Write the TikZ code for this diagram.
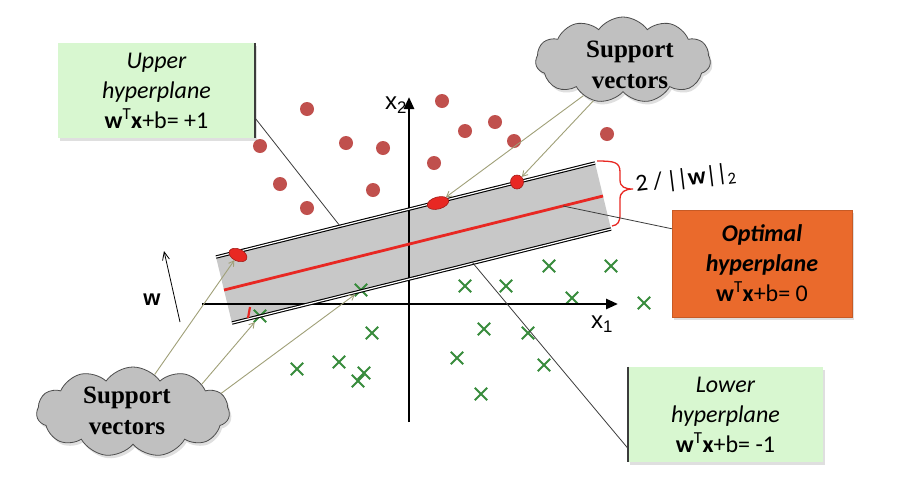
\documentclass[tikz,border=0pt]{standalone}
\usepackage{fontspec}
\setmainfont{Carlito}
\newfontfamily\tms{Liberation Serif}
\newfontfamily\hel{Liberation Sans}
\usetikzlibrary{shapes.symbols,shapes.misc,shapes.geometric,shadows,arrows.meta,calc}
\definecolor{boxgreen}{RGB}{216,247,208}
\definecolor{boxorange}{RGB}{234,106,44}
\definecolor{cloudgray}{RGB}{192,192,192}
\definecolor{bandgray}{RGB}{200,200,200}
\definecolor{dotred}{RGB}{192,80,77}
\definecolor{xgreen}{RGB}{56,140,60}
\definecolor{hred}{RGB}{232,40,35}
\definecolor{svline}{RGB}{160,160,120}
\definecolor{connline}{RGB}{60,60,60}
\tikzset{
  dot/.style={circle, fill=dotred, minimum size=14pt, inner sep=0pt},
  xmark/.style={cross out, draw=xgreen, line width=1.8pt, minimum size=10.5pt, inner sep=0pt},
  hplane/.style={draw=black, line width=1.1pt, double=white, double distance=1.2pt},
  axisline/.style={draw=black, line width=2.6pt},
  svmark/.style={ellipse, fill=hred, draw=hred!70!black, line width=0.6pt, inner sep=0pt},
  svarrow/.style={draw=svline, line width=0.9pt, -{Straight Barb[length=5pt,width=6pt]}},
  connector/.style={draw=connline, line width=0.8pt},
  hbox/.style={fill=boxgreen, minimum width=197pt, minimum height=95pt, align=center,
    font=\fontsize{24}{30}\selectfont, inner sep=0pt,
    drop shadow={opacity=0.25, shadow xshift=2pt, shadow yshift=-3pt}},
  obox/.style={fill=boxorange, draw=boxorange!85!black, line width=0.5pt,
    minimum width=180pt, minimum height=107pt, align=center,
    font=\fontsize{24}{30}\selectfont, inner sep=0pt,
    drop shadow={opacity=0.25, shadow xshift=2pt, shadow yshift=-3pt}},
  svcloud/.style={cloud, cloud puffs=11, cloud puff arc=110, cloud ignores aspect,
    fill=cloudgray, draw=black!70, line width=0.8pt, inner sep=0pt,
    drop shadow={opacity=0.25, shadow xshift=2pt, shadow yshift=-3pt}},
  svtext/.style={align=center, font=\tms\bfseries\fontsize{25}{31}\selectfont, inner sep=0pt},
  axlabel/.style={font=\hel\fontsize{24}{26}\selectfont, inner sep=0pt},
}
\begin{document}
\begin{tikzpicture}[x=1pt,y=-1pt]
\useasboundingbox (0,0) rectangle (920,488);
\fill[white] (0,0) rectangle (920,488);

% margin band
\coordinate (A) at (216,257);
\coordinate (B) at (595,163);
\coordinate (C) at (611,229);
\coordinate (D) at (232,323);
\fill[bandgray] (A) -- (B) -- (C) -- (D) -- cycle;

% data points
\foreach \px/\py [count=\i] in {307/109,260/146,346/143,383/148,280/184,373/190,307/208,442/101,465/131,495/122,514/141,434/163,607/134}
  \node[dot] (r\i) at (\px,\py) {};
\foreach \px/\py [count=\i] in {549/266,611/266,465/286,506/286,572/298,644/303,361/290,260/316,372/333,484/329,528/333,339/362,297/369,364/373,358/381,457/358,544/365,481/394}
  \node[xmark] (g\i) at (\px,\py) {};

% axes
\coordinate (ox0) at (202,304);
\coordinate (ox1) at (618,304);
\coordinate (oy0) at (409,422);
\coordinate (oy1) at (409,97);
\draw[axisline, -{Triangle[length=12pt,width=10pt]}] (ox0) -- (ox1);
\draw[axisline, -{Triangle[length=12pt,width=10pt]}] (oy0) -- (oy1);
\node[axlabel] (x2l) at (396,105) {x\textsubscript{2}};
\node[axlabel] (x1l) at (602,324) {x\textsubscript{1}};

% hyperplanes
\draw[hplane] (A) -- (B);
\draw[hplane] (D) -- (C);
\coordinate (R0) at (224,290);
\coordinate (R1) at (603,196);
\draw[hred, line width=2.8pt] (R0) -- (R1);

% support vector marks
\node[svmark, minimum width=19pt, minimum height=12pt, rotate=-25] (sv1) at (238,255) {};
\node[svmark, minimum width=22pt, minimum height=12pt, rotate=15] (sv2) at (438,203) {};
\node[svmark, minimum width=13pt, minimum height=14pt] (sv3) at (517,182) {};
\coordinate (t0) at (250,307);
\coordinate (t1) at (248,318);
\draw[hred, line width=2.2pt] (t0) -- (t1);

% brace
\draw[hred, line width=1.3pt] (597,161) .. controls (614,161) and (620,162) .. (620,172) -- (620,180)
  .. controls (620,187) and (625,189) .. (633,189)
  .. controls (625,189) and (620,192) .. (620,199) -- (620,214)
  .. controls (620,222) and (618,225) .. (612,226);
\node[font=\fontsize{24}{28}\selectfont, rotate=7, inner sep=0pt] (norm) at (686,179)
  {2 /\,|\kern-0.5pt|\textbf{w}|\kern-0.5pt|\textsubscript{2}};

% w arrow
\coordinate (w0) at (180,322);
\coordinate (w1) at (164,251);
\draw[line width=0.8pt, -{Straight Barb[length=8pt,width=7pt]}] (w0) -- (w1);
\node[font=\hel\bfseries\fontsize{22}{24}\selectfont, inner sep=0pt] (wl) at (152,300) {w};

% annotation boxes
\node[hbox] (ub) at (156.5,90.5) {\textit{Upper}\\\textit{hyperplane}\\\textbf{w}\textsuperscript{T}\textbf{x}+b= +1};
\draw[connline, line width=1.6pt] (ub.north east) -- (ub.south east);
\node[hbox, minimum width=195pt] (lb) at (725.5,414.5) {\textit{Lower}\\\textit{hyperplane}\\\textbf{w}\textsuperscript{T}\textbf{x}+b= -1};
\draw[connline, line width=1.6pt] (lb.north west) -- (lb.south west);
\node[obox] (ob) at (762,263.5) {\textbf{\textit{Optimal}}\\\textbf{\textit{hyperplane}}\\\textbf{w}\textsuperscript{T}\textbf{x}+b= 0};

\coordinate (uh) at (340,226);
\coordinate (lh) at (472,262);
\coordinate (oh) at (563,206);
\draw[connector] ($(ub.south east)+(0,-20)$) -- (uh);
\draw[connector] ($(lb.south west)+(0,-14)$) -- (lh);
\draw[connector] ($(ob.north west)+(0,19)$) -- (oh);

% clouds
\node[svcloud, minimum width=175pt, minimum height=86pt] (sc1) at (623,60) {};
\node[svtext] (sc1t) at (630,65) {Support\\vectors};
\node[svcloud, minimum width=193pt, minimum height=90pt] (sc2) at (133,412) {};
\node[svtext] (sc2t) at (127,411) {Support\\vectors};

\draw[svarrow] (sc1.222) -- (sv2);
\draw[svarrow] (sc1.234) -- (sv3);
\draw[svarrow] (sc2.60) -- (sv1);
\draw[svarrow] (sc2.22) -- (g8);
\draw[svarrow] (sc2.12) -- (g7);
\end{tikzpicture}
\end{document}
